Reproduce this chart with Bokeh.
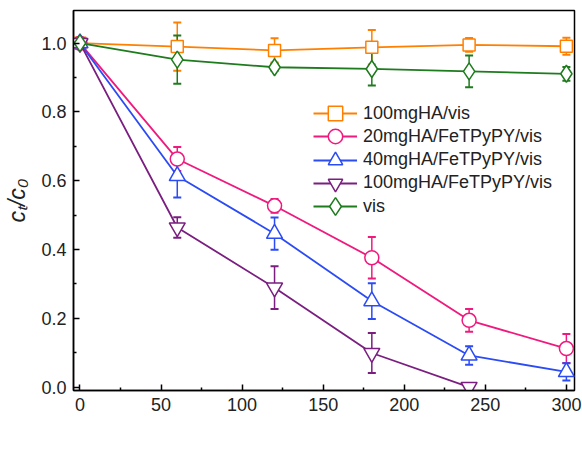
from bokeh.plotting import figure
from bokeh.models import (Range1d, FixedTicker, Whisker, TeeHead, ColumnDataSource,
                          Legend, LegendItem, Label, NumeralTickFormatter)
from bokeh.embed import file_html
from bokeh.resources import INLINE

time = [0, 60, 120, 180, 240, 300]
time_purple = [0, 60, 120, 180, 240]

names = ["100mgHA/vis", "20mgHA/FeTPyPY/vis", "40mgHA/FeTPyPY/vis",
         "100mgHA/FeTPyPY/vis", "vis"]

ha100_vis = [1.0, 0.990, 0.979, 0.988, 0.995, 0.991]
ha100_vis_err = [0.0, 0.07, 0.035, 0.05, 0.02, 0.025]
ha20_fe = [1.0, 0.663, 0.527, 0.376, 0.194, 0.112]
ha20_fe_err = [0.0, 0.035, 0.02, 0.06, 0.033, 0.042]
ha40_fe = [1.0, 0.614, 0.446, 0.250, 0.092, 0.044]
ha40_fe_err = [0.0, 0.063, 0.047, 0.052, 0.027, 0.025]
ha100_fe = [1.0, 0.464, 0.289, 0.099, 0.0]
ha100_fe_err = [0.0, 0.03, 0.062, 0.058, 0.0]
vis = [1.0, 0.952, 0.930, 0.925, 0.918, 0.911]
vis_err = [0.0, 0.07, 0.01, 0.048, 0.046, 0.02]

x_ticks = [0, 50, 100, 150, 200, 250, 300]
x_minor = [25, 75, 125, 175, 225, 275]
y_ticks = [0.0, 0.2, 0.4, 0.6, 0.8, 1.0]
y_minor = [0.1, 0.3, 0.5, 0.7, 0.9]

colors = ["#FF8000", "#F0197D", "#2B4BF5", "#7A1F80", "#1E7B1E"]
markers = ["square", "circle", "triangle", "inverted_triangle", "diamond"]
sizes = [12, 14, 16, 16, 17]
legend_box = [36, 36, 36, 36, 46]

FONT = "Liberation Sans"

p = figure(width=582, height=453, output_backend="svg", toolbar_location=None,
           x_range=Range1d(-4, 305), y_range=Range1d(-0.01, 1.095),
           min_border_left=73, min_border_right=8, min_border_top=10,
           min_border_bottom=63)
p.grid.visible = False
p.outline_line_color = "black"
p.outline_line_width = 1.5
p.background_fill_color = "white"

p.xaxis.ticker = FixedTicker(ticks=x_ticks, minor_ticks=x_minor)
p.yaxis.ticker = FixedTicker(ticks=y_ticks, minor_ticks=y_minor)
p.yaxis.formatter = NumeralTickFormatter(format="0.0")
for ax in (p.xaxis[0], p.yaxis[0]):
    ax.axis_line_width = 1.5
    ax.major_tick_in = 6
    ax.major_tick_out = 0
    ax.minor_tick_in = 3
    ax.minor_tick_out = 0
    ax.major_tick_line_width = 1.5
    ax.minor_tick_line_width = 1.5
    ax.major_label_text_font = FONT
    ax.major_label_text_font_size = "18px"
    ax.major_label_text_color = "#222222"
    ax.major_label_standoff = 7

p.yaxis.axis_label = "cₜ/c₀"
p.yaxis.axis_label_text_font = FONT
p.yaxis.axis_label_text_font_size = "23px"
p.yaxis.axis_label_text_font_style = "italic"
p.yaxis.axis_label_text_color = "#222222"
p.yaxis.axis_label_standoff = 8

p.add_layout(Label(x=130.7, y=-0.160, text="t", text_font=FONT, text_font_size="21px",
                   text_font_style="italic", text_color="#222222", text_baseline="middle"))
p.add_layout(Label(x=137.5, y=-0.160, text="(min)", text_font=FONT, text_font_size="21px",
                   text_color="#222222", text_baseline="middle"))

series = [(time, ha100_vis, ha100_vis_err), (time, ha20_fe, ha20_fe_err),
          (time, ha40_fe, ha40_fe_err), (time_purple, ha100_fe, ha100_fe_err),
          (time, vis, vis_err)]

items = []
for (t, y, e), c, m, s, n in zip(series, colors, markers, sizes, names):
    src = ColumnDataSource(dict(x=t, y=y,
                                lo=[a - b for a, b in zip(y, e)],
                                hi=[a + b for a, b in zip(y, e)]))
    w = Whisker(source=src, base="x", lower="lo", upper="hi",
                line_color=c, line_width=1.5,
                upper_head=TeeHead(size=8, line_color=c, line_width=2),
                lower_head=TeeHead(size=8, line_color=c, line_width=2))
    p.add_layout(w)
    ln = p.line("x", "y", source=src, line_color=c, line_width=1.8)
    sc = p.scatter("x", "y", source=src, marker=m, size=s, line_color=c,
                   fill_color="white", line_width=1.5)
    items.append(LegendItem(label=n, renderers=[ln, sc]))

# one legend per entry so that rows can be closer than the glyph box height
row_step = 23.3
first_row_center = 277
for i, (item, box) in enumerate(zip(items, legend_box)):
    lg = Legend(items=[item], location=(240, first_row_center - i * row_step - box / 2))
    lg.padding = 0
    lg.margin = 0
    lg.spacing = 0
    lg.glyph_height = box
    lg.label_height = box
    lg.glyph_width = 44
    lg.label_standoff = 6
    lg.label_text_font = FONT
    lg.label_text_font_size = "18px"
    lg.label_text_color = "#222222"
    lg.border_line_alpha = 0
    lg.background_fill_alpha = 0
    p.add_layout(lg)

open("out.html", "w").write(file_html(p, INLINE))
